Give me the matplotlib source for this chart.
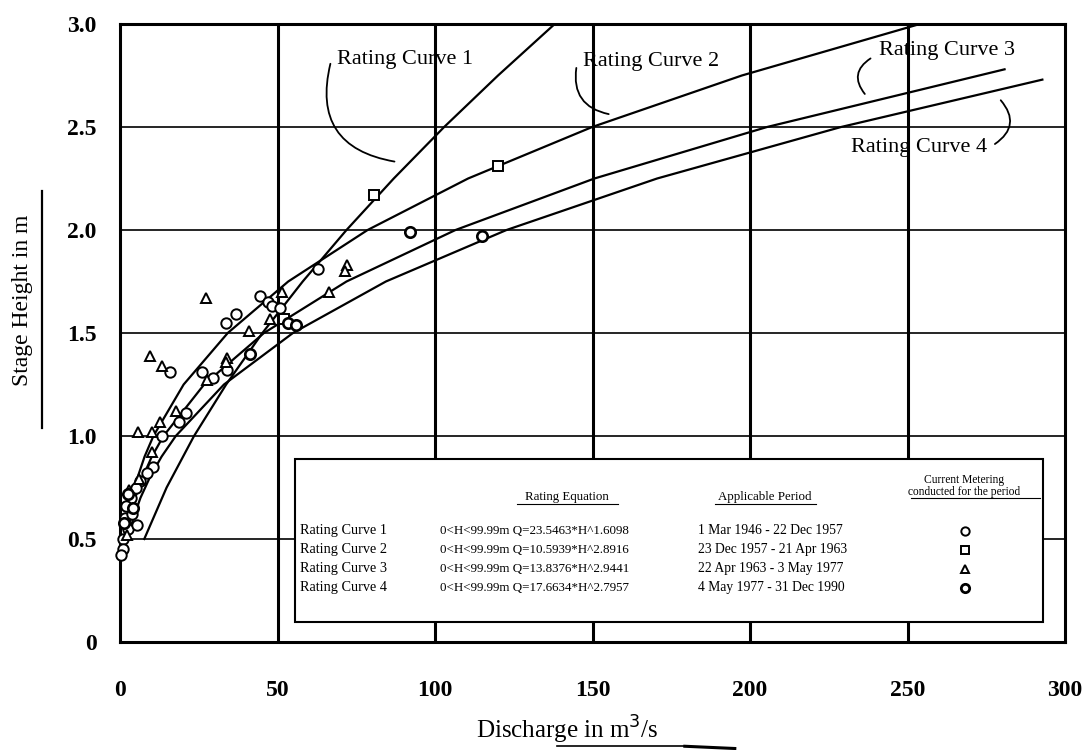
import matplotlib.pyplot as plt
from matplotlib.patches import Rectangle
from matplotlib.lines import Line2D

plt.rcParams['font.family'] = ['Liberation Serif', 'DejaVu Serif']

# rating curves (discharge Q, stage H)
h1 = [0.5, 0.75, 1.0, 1.25, 1.5, 1.75, 2.0, 2.25, 2.5, 2.75, 3.0]
q1 = [7.7, 14.8, 23.5, 33.7, 45.2, 58.0, 71.9, 86.9, 102.9, 120.0, 138.0]
h2 = [0.5, 0.6, 0.7, 0.8, 0.9, 1.0, 1.25, 1.5, 1.75, 2.0, 2.25, 2.5, 2.75, 3.0]
q2 = [1.4, 2.4, 3.8, 5.6, 7.8, 10.6, 20.2, 34.2, 53.4, 78.6, 110.5, 149.9, 197.4, 253.9]
h3 = [0.5, 0.6, 0.7, 0.8, 0.9, 1.0, 1.25, 1.5, 1.75, 2.0, 2.25, 2.5, 2.78]
q3 = [1.8, 3.1, 4.8, 7.2, 10.1, 13.8, 26.7, 45.7, 71.9, 106.5, 150.6, 205.4, 280.8]
h4 = [0.5, 0.6, 0.7, 0.8, 0.9, 1.0, 1.25, 1.5, 1.75, 2.0, 2.25, 2.5, 2.73]
q4 = [2.5, 4.2, 6.5, 9.5, 13.2, 17.7, 33.0, 54.9, 84.4, 122.7, 170.5, 228.9, 292.8]

# current metering points
circ1_q = [63, 44.4, 33.7, 36.8, 47, 48.3, 50.8, 26, 29.5, 34, 15.9, 21, 18.7, 13.3,
           10.4, 8.5, 6.5, 5.0, 3.5, 2.0, 1.5, 3.8, 2.5, 1.0, 0.8, 5.5, 0.4]
circ1_h = [1.81, 1.68, 1.55, 1.59, 1.65, 1.63, 1.62, 1.31, 1.28, 1.32, 1.31, 1.11, 1.07, 1.00,
           0.85, 0.82, 0.78, 0.75, 0.70, 0.66, 0.60, 0.62, 0.55, 0.50, 0.45, 0.57, 0.42]
sq_q = [80.5, 120, 52]
sq_h = [2.17, 2.31, 1.57]
tri_q = [27.3, 9.5, 13.2, 72, 71.4, 66.3, 51.4, 47.6, 41, 34, 33.6, 27.6, 17.8, 5.7,
         12.7, 10, 10.1, 6.0, 3.0, 2.2]
tri_h = [1.67, 1.39, 1.34, 1.83, 1.80, 1.70, 1.70, 1.57, 1.51, 1.38, 1.36, 1.27, 1.12, 1.02,
         1.07, 1.02, 0.92, 0.79, 0.74, 0.52]
circ4_q = [92, 115, 53.3, 56, 41.3, 2.5, 4.2, 1.2]
circ4_h = [1.99, 1.97, 1.55, 1.54, 1.40, 0.72, 0.65, 0.58]

xticks = [0, 50, 100, 150, 200, 250, 300]
yticks = [0, 0.5, 1.0, 1.5, 2.0, 2.5, 3.0]
ylabels = ['0', '0.5', '1.0', '1.5', '2.0', '2.5', '3.0']

names = ['Rating Curve 1', 'Rating Curve 2', 'Rating Curve 3', 'Rating Curve 4']
equations = ['0<H<99.99m Q=23.5463*H^1.6098', '0<H<99.99m Q=10.5939*H^2.8916',
             '0<H<99.99m Q=13.8376*H^2.9441', '0<H<99.99m Q=17.6634*H^2.7957']
periods = ['1 Mar 1946 - 22 Dec 1957', '23 Dec 1957 - 21 Apr 1963',
           '22 Apr 1963 - 3 May 1977', '4 May 1977 - 31 Dec 1990']

fig = plt.figure(figsize=(10.87, 7.5), dpi=100)
ax = fig.add_axes([0.1104, 0.144, 0.8694, 0.824])
ax.set_xlim(0, 300)
ax.set_ylim(0, 3.0)

# grid drawn by hand: heavy verticals, light horizontals
for x in xticks[1:-1]:
    ax.axvline(x, color='black', lw=2.2, zorder=1)
for y in yticks[1:-1]:
    ax.axhline(y, color='black', lw=1.2, zorder=1)

for q, h in [(q1, h1), (q2, h2), (q3, h3), (q4, h4)]:
    ax.plot(q, h, color='black', lw=1.6, zorder=2)

mk = dict(color='none', mfc='white', mec='black', ms=7.5, mew=1.4, zorder=3, clip_on=False)
ax.plot(circ1_q, circ1_h, marker='o', **mk)
ax.plot(sq_q, sq_h, marker='s', **mk)
ax.plot(tri_q, tri_h, marker='^', **mk)
mk4 = dict(mk, mew=1.9)
ax.plot(circ4_q, circ4_h, marker='o', **mk4)

for s in ax.spines.values():
    s.set_linewidth(2.2)
ax.set_xticks(xticks)
ax.set_xticklabels([str(x) for x in xticks])
ax.set_yticks(yticks)
ax.set_yticklabels(ylabels)
ax.tick_params(length=0, labelsize=17)
ax.tick_params(axis='x', pad=27)
ax.tick_params(axis='y', pad=17)
for lab in ax.get_xticklabels() + ax.get_yticklabels():
    lab.set_fontweight('bold')

# curve labels with leader lines
lab_kw = dict(fontsize=16, va='center', zorder=5)
ax.text(69, 2.83, names[0], ha='left', **lab_kw)
ax.annotate('', xy=(88, 2.33), xytext=(67, 2.82),
            arrowprops=dict(arrowstyle='-', lw=1.3, connectionstyle='arc3,rad=0.55'))
ax.text(147, 2.82, names[1], ha='left', **lab_kw)
ax.annotate('', xy=(156, 2.56), xytext=(145, 2.80),
            arrowprops=dict(arrowstyle='-', lw=1.3, connectionstyle='arc3,rad=0.5'))
ax.text(241, 2.87, names[2], ha='left', **lab_kw)
ax.annotate('', xy=(237, 2.65), xytext=(239, 2.84),
            arrowprops=dict(arrowstyle='-', lw=1.3, connectionstyle='arc3,rad=0.6'))
ax.text(232, 2.4, names[3], ha='left', **lab_kw)
ax.annotate('', xy=(279, 2.64), xytext=(277, 2.41),
            arrowprops=dict(arrowstyle='-', lw=1.3, connectionstyle='arc3,rad=0.6'))

# table box
ax.add_patch(Rectangle((55.6, 0.097), 237.4, 0.789, facecolor='white',
                       edgecolor='black', lw=1.5, zorder=6))
hk = dict(fontsize=9.3, ha='center', va='center', zorder=7)
ax.text(141.9, 0.706, 'Rating Equation', **hk)
ax.plot([126, 158], [0.672, 0.672], color='black', lw=0.8, zorder=7)
ax.text(204.8, 0.706, 'Applicable Period', **hk)
ax.plot([189, 221], [0.672, 0.672], color='black', lw=0.8, zorder=7)
hk2 = dict(hk, fontsize=8.3)
ax.text(268, 0.787, 'Current Metering', **hk2)
ax.text(268, 0.730, 'conducted for the period', **hk2)
ax.plot([251, 292], [0.697, 0.697], color='black', lw=0.8, zorder=7)

rows_h = [0.540, 0.448, 0.355, 0.263]
markers = ['o', 's', '^', 'o']
mews = [1.4, 1.4, 1.4, 2.0]
for i in range(4):
    ax.text(57.0, rows_h[i], names[i], fontsize=10.3, ha='left', va='center', zorder=7)
    ax.text(101.6, rows_h[i], equations[i], fontsize=9.4, ha='left', va='center', zorder=7)
    ax.text(183.5, rows_h[i], periods[i], fontsize=9.8, ha='left', va='center', zorder=7)
    ax.plot([268.3], [rows_h[i]], marker=markers[i], color='none', mfc='white',
            mec='black', ms=6, mew=mews[i], zorder=7)

# axis titles
fig.text(0.021, 0.6, 'Stage Height in m', rotation=90, fontsize=17,
         ha='center', va='center')
fig.add_artist(Line2D([0.039, 0.039], [0.43, 0.745], color='black', lw=1.6))
fig.text(0.522, 0.027, 'Discharge in m$^3$/s', fontsize=18, ha='center', va='center')
fig.add_artist(Line2D([0.512, 0.63], [0.005, 0.005], color='black', lw=1.2))
fig.add_artist(Line2D([0.63, 0.676], [0.005, 0.002], color='black', lw=2.2))

fig.savefig('out.png', dpi=100)
